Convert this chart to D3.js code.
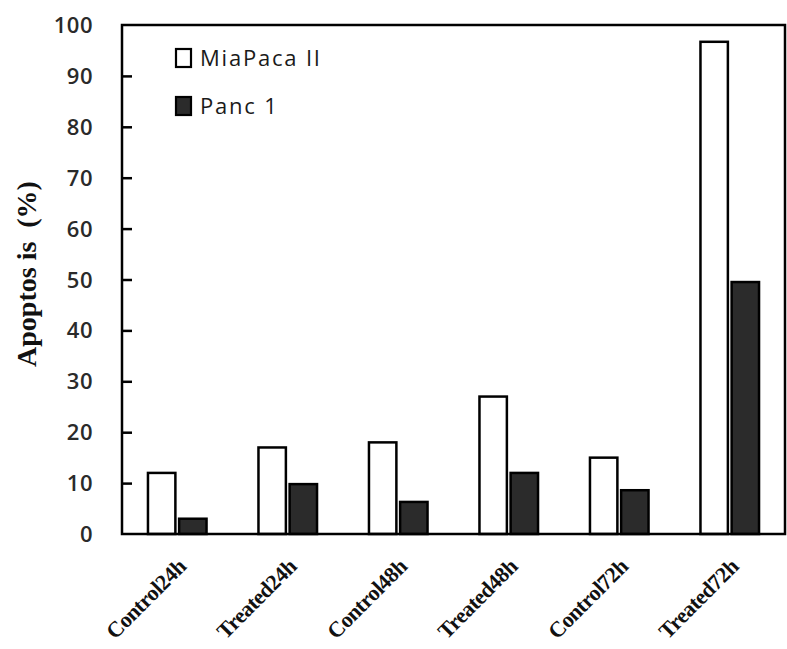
<!DOCTYPE html>
<html>
<head>
<meta charset="utf-8">
<script src="https://cdn.jsdelivr.net/npm/d3@7"></script>
<style>
  body { margin: 0; background: #fff; }
</style>
</head>
<body>
<div id="chart"></div>
<script>
const categories = ['Control24h', 'Treated24h', 'Control48h', 'Treated48h', 'Control72h', 'Treated72h'];
const series = ['MiaPaca II', 'Panc 1'];
const miapaca = [12, 17, 18, 27, 15, 96.7];
const panc1 = [3, 9.8, 6.3, 12, 8.6, 49.5];
const yTicks = [0, 10, 20, 30, 40, 50, 60, 70, 80, 90, 100];

const FILL = { 'MiaPaca II': '#ffffff', 'Panc 1': '#2b2b2b' };

const W = 787, H = 649;
const M = { top: 25, right: 2, bottom: 115, left: 122 };
const iW = W - M.left - M.right;
const iH = H - M.top - M.bottom;

const svg = d3.select('#chart').append('svg')
  .attr('width', W).attr('height', H);

const g = svg.append('g').attr('transform', `translate(${M.left},${M.top})`);

const x0 = d3.scaleBand().domain(categories).range([0, iW]).paddingInner(0.47).paddingOuter(0.235);
const x1 = d3.scaleBand().domain(series).range([0, x0.bandwidth()]).paddingInner(0.12);
const y = d3.scaleLinear().domain([0, 100]).range([iH, 0]);

const rows = categories.map((c, i) => ({ cat: c, vals: [
  { s: series[0], v: miapaca[i] },
  { s: series[1], v: panc1[i] },
] }));

// Bars
g.selectAll('.grp')
  .data(rows)
  .join('g')
  .attr('class', 'grp')
  .attr('transform', d => `translate(${x0(d.cat)},0)`)
  .selectAll('rect')
  .data(d => d.vals)
  .join('rect')
  .attr('x', d => x1(d.s))
  .attr('y', d => y(d.v))
  .attr('width', x1.bandwidth())
  .attr('height', d => iH - y(d.v))
  .attr('fill', d => FILL[d.s])
  .attr('stroke', '#000')
  .attr('stroke-width', 2.5);

// Frame
g.append('rect')
  .attr('x', 0).attr('y', 0)
  .attr('width', iW).attr('height', iH)
  .attr('fill', 'none')
  .attr('stroke', '#000')
  .attr('stroke-width', 2.5);

// Y axis, ticks pointing inward
g.append('g')
  .call(d3.axisRight(y).tickValues(yTicks.filter(t => t > 0 && t < 100)).tickSize(10).tickFormat(''))
  .call(ax => ax.select('.domain').remove())
  .call(ax => ax.selectAll('line').attr('stroke', '#000').attr('stroke-width', 2.5));

g.append('g')
  .selectAll('text')
  .data(yTicks)
  .join('text')
  .attr('x', -29)
  .attr('y', d => y(d) + 8)
  .attr('text-anchor', 'end')
  .attr('font-family', 'Open Sans, sans-serif')
  .attr('font-weight', 600)
  .attr('font-size', 22)
  .attr('letter-spacing', 0.5)
  .attr('fill', '#2a2a2a')
  .text(d => d);

// Y label
const yl = svg.append('text')
  .attr('transform', `translate(36,274) rotate(-90)`)
  .attr('text-anchor', 'middle')
  .attr('font-family', 'Liberation Serif, Times New Roman, serif')
  .attr('font-weight', 'bold')
  .attr('font-size', 28)
  .attr('fill', '#111');
yl.append('tspan').text('Apoptos is');
yl.append('tspan').attr('dx', 14).text('(%)');

// X labels
g.selectAll('.xl')
  .data(categories)
  .join('text')
  .attr('class', 'xl')
  .attr('transform', d => `translate(${x0(d) + x0.bandwidth() / 2 + 10},${iH + 34}) rotate(-45)`)
  .attr('text-anchor', 'end')
  .attr('font-family', 'Liberation Serif, Times New Roman, serif')
  .attr('font-weight', 'bold')
  .attr('font-size', 22)
  .attr('letter-spacing', -0.5)
  .attr('fill', '#111')
  .text(d => d);

// Legend
const leg = g.append('g').attr('transform', 'translate(54,24)');
series.forEach((s, i) => {
  leg.append('rect')
    .attr('x', 0).attr('y', i * 48)
    .attr('width', 15).attr('height', 18)
    .attr('fill', FILL[s])
    .attr('stroke', '#000')
    .attr('stroke-width', 2.2);
  leg.append('text')
    .attr('x', 24).attr('y', i * 48 + 17)
    .attr('font-family', 'Open Sans, sans-serif')
    .attr('font-size', 22)
    .attr('letter-spacing', 1.8)
    .attr('fill', '#1a1a1a')
    .text(s);
});
</script>
</body>
</html>
